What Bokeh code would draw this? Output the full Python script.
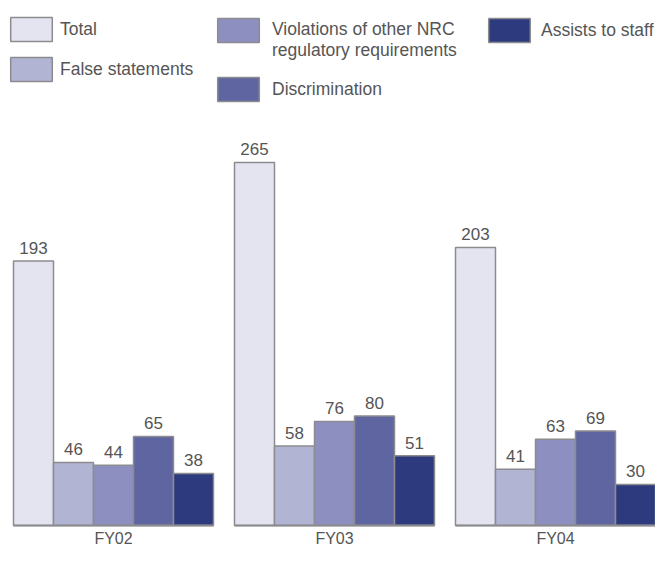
from bokeh.plotting import figure
from bokeh.models import ColumnDataSource, Range1d, Legend, LegendItem
from bokeh.transform import dodge
from bokeh.core.properties import value
from bokeh.embed import file_html
from bokeh.resources import INLINE

# ---- data ----
years = ["FY02", "FY03", "FY04"]
series_names = ["Total", "False statements",
                "Violations of other NRC\nregulatory requirements",
                "Discrimination", "Assists to staff"]
total = [193, 265, 203]
false_statements = [46, 58, 41]
violations = [44, 76, 63]
discrimination = [65, 80, 69]
assists = [38, 51, 30]

series_values = [total, false_statements, violations, discrimination, assists]
colors = ["#e4e4f0", "#b2b4d4", "#8c8fbf", "#5e65a0", "#2d3b7e"]

FONT = "Liberation Sans"
TEXT_COLOR = "#555555"
LEG_SIZE = "17.5px"

idx = list(range(len(years)))
bar_w = 0.181

W, H = 655, 548
p = figure(width=W, height=H,
           x_range=Range1d(-0.5113, 2.4525),
           y_range=Range1d(-16.79, 383.21),
           output_backend="svg", toolbar_location=None,
           x_axis_location=None, y_axis_location=None,
           min_border=0)
p.xgrid.visible = False
p.ygrid.visible = False
p.outline_line_color = None
p.background_fill_color = "white"
p.border_fill_color = "white"

renderers = []
for i, (name, vals, col) in enumerate(zip(series_names, series_values, colors)):
    src = ColumnDataSource(dict(x=idx, y=vals, lab=[str(v) for v in vals]))
    off = (i - 2) * bar_w
    r = p.vbar(x=dodge("x", off), top="y", bottom=0, width=bar_w, source=src,
               fill_color=col, line_color="#8c8c90", line_width=1.5)
    renderers.append(r)
    p.text(x=dodge("x", off), y="y", text="lab", source=src,
           text_align="center", text_baseline="middle", y_offset=-13,
           text_font=value(FONT), text_font_size="17px", text_color=TEXT_COLOR)

# group baselines
half = 2.5 * bar_w
bsrc = ColumnDataSource(dict(x0=[i - half for i in idx], x1=[i + half for i in idx],
                             y=[0] * len(idx)))
p.segment(x0="x0", y0="y", x1="x1", y1="y", source=bsrc,
          line_color="#8c8c90", line_width=2)

# category labels
ysrc = ColumnDataSource(dict(x=idx, y=[0] * len(idx), t=years))
p.text(x="x", y="y", text="t", source=ysrc, text_align="center",
       text_baseline="middle", y_offset=13,
       text_font=value(FONT), text_font_size="16px", text_color=TEXT_COLOR)


def make_legend(items, loc, spacing, standoff):
    lg = Legend(items=items, location=loc, orientation="vertical",
                padding=0, margin=0, spacing=spacing,
                glyph_width=52, glyph_height=30, label_height=30,
                label_standoff=standoff,
                label_text_font=FONT, label_text_font_size=LEG_SIZE,
                label_text_color=TEXT_COLOR,
                border_line_color=None, background_fill_alpha=0)
    p.add_layout(lg, "center")
    return lg


make_legend([LegendItem(label=series_names[0], renderers=[renderers[0]]),
             LegendItem(label=series_names[1], renderers=[renderers[1]])],
            (5, 464), 10, 3)
# leading empty line keeps the swatch level with the first text line
make_legend([LegendItem(label="\n" + series_names[2], renderers=[renderers[2]]),
             LegendItem(label=series_names[3], renderers=[renderers[3]])],
            (212, 444), 13, 8)
make_legend([LegendItem(label=series_names[4], renderers=[renderers[4]])],
            (483, 503), 0, 6)

open("out.html", "w").write(file_html(p, INLINE))
